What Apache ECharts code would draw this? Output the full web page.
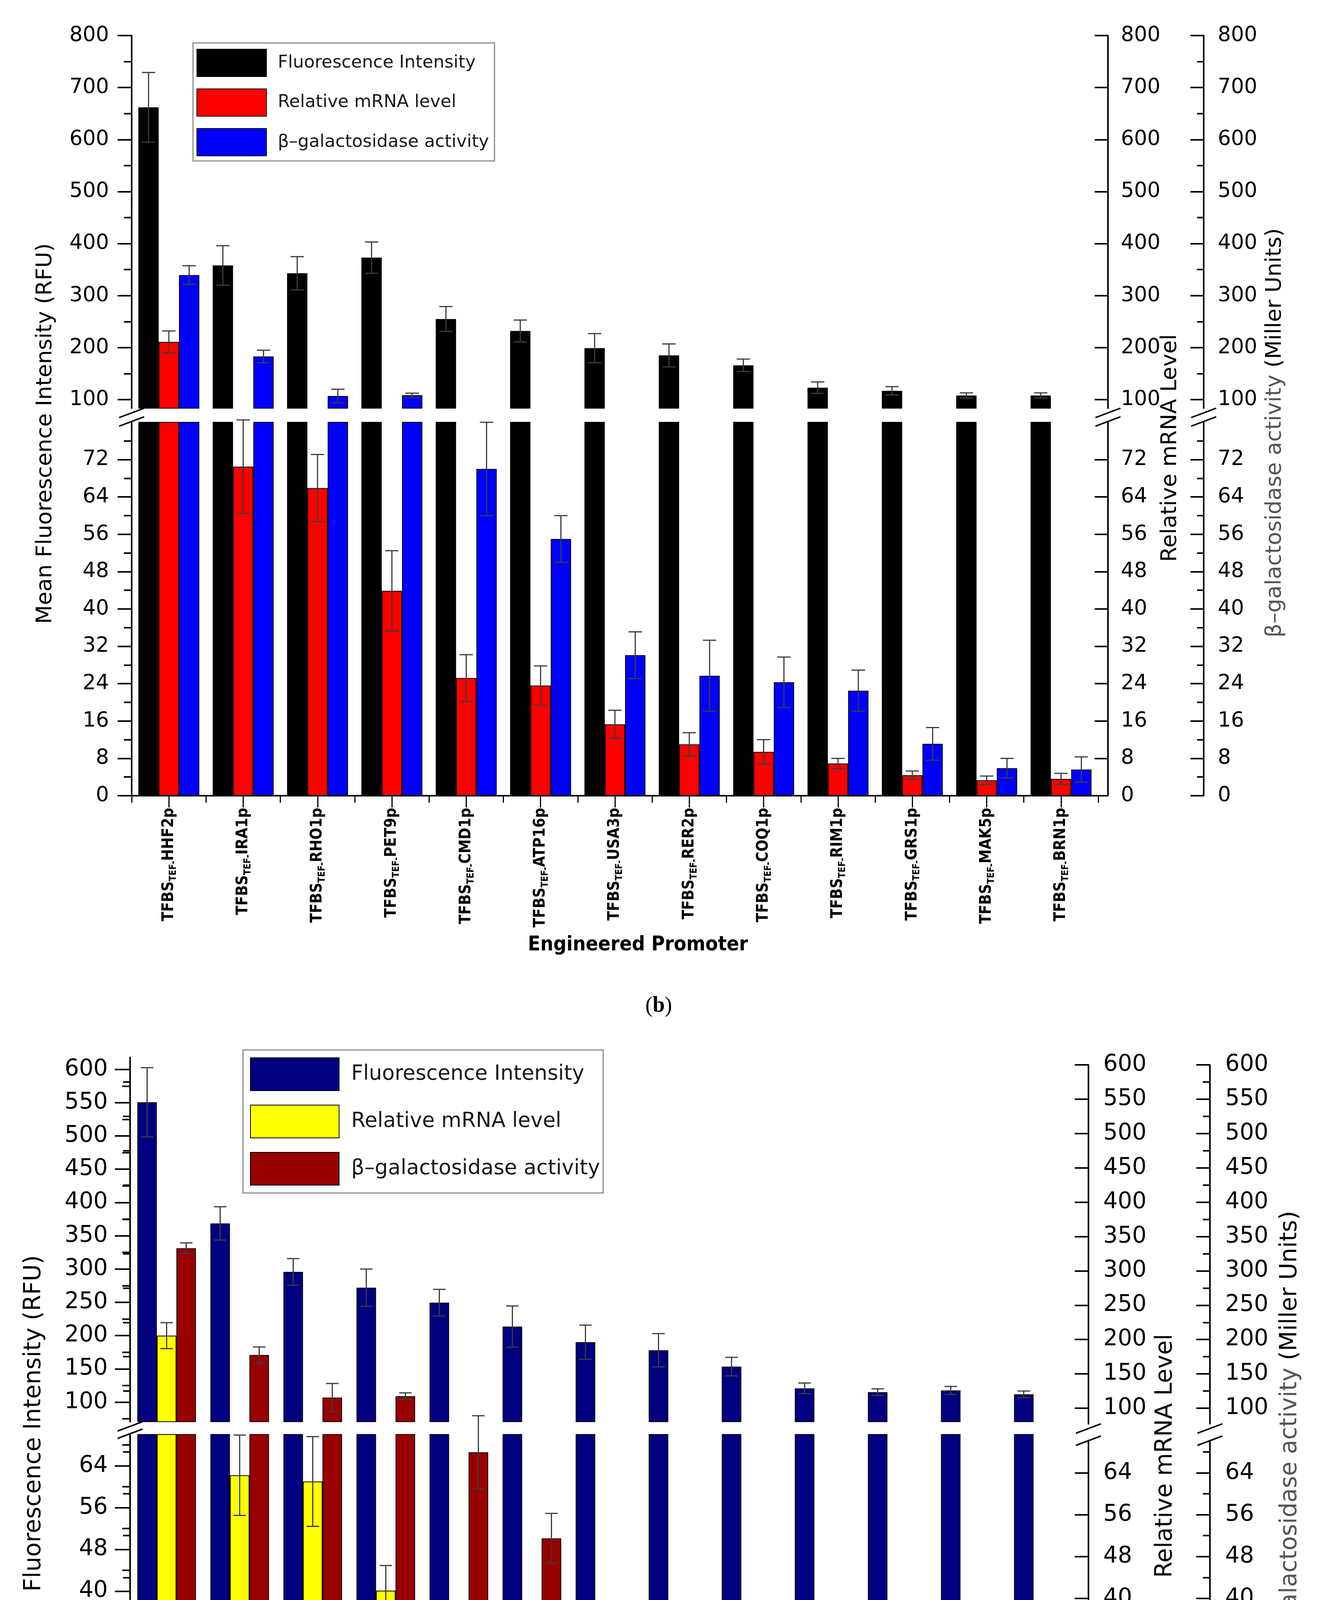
<!DOCTYPE html>
<html>
<head>
<meta charset="utf-8">
<script src="https://cdn.jsdelivr.net/npm/echarts@6/dist/echarts.min.js"></script>
<style>
html,body{margin:0;padding:0;background:#ffffff;}
#panelB,#panelC{width:3412px;height:2643px;}
</style>
</head>
<body>
<div id="panelB"></div>
<div id="panelC"></div>
<script>
// ---------------- data ----------------
const promoters = ['HHF2p','IRA1p','RHO1p','PET9p','CMD1p','ATP16p','USA3p','RER2p','COQ1p','RIM1p','GRS1p','MAK5p','BRN1p'];
const seriesNames = ['Fluorescence Intensity','Relative mRNA level','\u03b2\u2013galactosidase activity'];

// panel (b): TFBS_TEF promoters
const fluoB    = [662, 358, 343, 373, 255, 232, 199, 185, 166, 123, 117, 108, 108];
const fluoErrB = [67, 38, 32, 30, 24, 21, 28, 22, 12, 11, 8, 5, 5];
const mrnaB    = [211, 70.5, 65.9, 43.9, 25.2, 23.6, 15.3, 11.0, 9.4, 6.9, 4.4, 3.3, 3.6];
const mrnaErrB = [21, 10, 7.2, 8.6, 5, 4.2, 3, 2.5, 2.6, 1.1, 0.9, 0.9, 1.2];
const galB     = [339.5, 183, 107, 108.5, 70, 55, 30.1, 25.7, 24.3, 22.5, 11.1, 5.9, 5.6];
const galErrB  = [18, 12, 13, 4, 10, 5, 5, 7.6, 5.4, 4.4, 3.5, 2.1, 2.7];

// panel (c): TFBS_HHF2 promoters
const fluoC    = [550.6, 368.6, 295.8, 272, 249.5, 213.6, 190.2, 178, 153.4, 120.8, 115, 117.7, 111.8];
const fluoErrC = [52, 25, 20, 28, 20, 31, 25.6, 25, 14, 8, 5, 6, 5];
const mrnaC    = [200, 62.2, 61.0, 40.1, 21.5, 21.2, 13.9, 10.5, 9.2, 6.0, 4.1, 4.2, 4.2];
const mrnaErrC = [19.5, 7.7, 8.6, 4.8, 3.5, 3.9, 2.7, 1.6, 2.5, 1.8, 1.8, 1.0, 0.9];
const galC     = [331.3, 170.9, 107, 109, 66.6, 50.1, 24.9, 23.3, 22.0, 20.4, 9.0, 4.6, 5.0];
const galErrC  = [8, 12, 21, 5, 7, 4.8, 5.2, 6.6, 4, 4.1, 3.5, 2.2, 0.9];

// tick labels
const ticksUpB  = [100,200,300,400,500,600,700,800];
const minorUpB  = [150,250,350,450,550,650,750];
const ticksLoB  = [0,8,16,24,32,40,48,56,64,72];
const minorLoB  = [4,12,20,28,36,44,52,60,68,76];
const ticksUpC  = [100,150,200,250,300,350,400,450,500,550,600];
const minorUpC  = [75,125,175,225,275,325,375,425,475,525,575];
const ticksLoC  = [0,8,16,24,32,40,48,56,64];
const minorLoC  = [4,12,20,28,36,44,52,60,68];

// ---------------- builder ----------------
const FONT = "'DejaVu Sans', sans-serif";
const CFONT = "'DejaVu Sans Condensed', 'Liberation Sans Narrow', 'DejaVu Sans', sans-serif";
const BLACK = '#000000';

function buildOption(P) {
  const inR = (arr, a) => arr.filter(v => v >= a.min && v <= a.max);
  const lw = 4;
  const grids = [
    {left: P.L, top: P.up.top, width: P.catR - P.L, height: P.up.bottom - P.up.top},
    {left: P.L, top: P.lo.top, width: P.catR - P.L, height: P.lo.bottom - P.lo.top},
    {left: P.L, top: P.rUp.top, width: P.R - P.L, height: P.rUp.bottom - P.rUp.top},
    {left: P.L, top: P.rLo.top, width: P.R - P.L, height: P.rLo.bottom - P.rLo.top},
    {left: P.L, top: P.lo.top, width: P.R - P.L, height: P.lo.bottom - P.lo.top}
  ].map(g => Object.assign(g, {containLabel: false, outerBoundsMode: 'none'}));

  const xAxes = [
    {gridIndex: 0, type: 'category', data: P.cats, show: false},
    {gridIndex: 1, type: 'category', data: P.cats, position: 'bottom',
      axisLine: {show: false},
      axisTick: {show: true, length: P.xl.boundaryLen, lineStyle: {color: BLACK, width: 3}},
      axisLabel: {show: true, rotate: 90, margin: P.xl.margin, interval: 0,
        formatter: v => '{m|TFBS}{s|' + P.sub + '}{m|' + v + '}',
        rich: {
          m: {fontSize: P.xl.main, fontWeight: 'bold', fontFamily: CFONT, color: BLACK, lineHeight: P.xl.main + 8},
          s: {fontSize: P.xl.sub, fontWeight: 'bold', fontFamily: CFONT, color: BLACK, verticalAlign: 'bottom'}
        }}},
    {gridIndex: 1, type: 'category', data: P.cats, position: 'bottom',
      axisLine: {show: false},
      axisTick: {show: true, alignWithLabel: true, length: P.xl.centerLen, lineStyle: {color: BLACK, width: 3}},
      axisLabel: {show: false}},
    {gridIndex: 2, type: 'value', min: 0, max: 1, show: false},
    {gridIndex: 3, type: 'value', min: 0, max: 1, show: false},
    {gridIndex: 4, type: 'value', min: 0, max: 1,
      axisLine: {show: true, onZero: false, lineStyle: {color: BLACK, width: lw}},
      axisTick: {show: false}, axisLabel: {show: false}, splitLine: {show: false}}
  ];

  function yMain(grid, a, pos, offset, inside, len, margin) {
    return {gridIndex: grid, type: 'value', min: a.min, max: a.max, position: pos, offset: offset,
      axisLine: {show: true, onZero: false, lineStyle: {color: BLACK, width: lw}},
      axisTick: {show: true, inside: inside, length: len, customValues: inR(a.ticks, a), lineStyle: {color: BLACK, width: lw}},
      axisLabel: {show: true, customValues: inR(a.ticks, a), margin: margin, fontSize: P.tickFont, fontFamily: FONT, color: BLACK},
      splitLine: {show: false}};
  }
  function yMinor(grid, a, pos, offset, inside, len) {
    return {gridIndex: grid, type: 'value', min: a.min, max: a.max, position: pos, offset: offset,
      axisLine: {show: false},
      axisTick: {show: true, inside: inside, length: len, customValues: inR(a.minor, a), lineStyle: {color: BLACK, width: lw}},
      axisLabel: {show: false}, splitLine: {show: false}};
  }
  const yAxes = [
    yMain(0, P.up, 'left', 0, false, P.majorLen, P.mL),
    yMinor(0, P.up, 'left', 0, false, P.minorLen),
    yMain(1, P.lo, 'left', 0, false, P.majorLen, P.mL),
    yMinor(1, P.lo, 'left', 0, false, P.minorLen),
    yMain(2, P.rUp, 'right', 0, true, P.rMajorLen, P.mR[0]),
    yMinor(2, P.rUp, 'right', 0, true, P.rMinorLen),
    yMain(2, P.rUp, 'right', P.R2off, true, P.rMajorLen, P.mR[1]),
    yMinor(2, P.rUp, 'right', P.R2off, true, P.rMinorLen),
    yMain(3, P.rLo, 'right', 0, true, P.rMajorLen, P.mR[0]),
    yMinor(3, P.rLo, 'right', 0, true, P.rMinorLen),
    yMain(3, P.rLo, 'right', P.R2off, true, P.rMajorLen, P.mR[1]),
    yMinor(3, P.rLo, 'right', P.R2off, true, P.rMinorLen),
    {gridIndex: 4, type: 'value', min: 0, max: 1, show: false}
  ];

  const series = [];
  P.series.forEach((s, k) => {
    const common = {type: 'bar', name: s.name, barWidth: P.barW, barGap: '0%', clip: true,
      itemStyle: {color: s.color, borderColor: '#000000', borderWidth: 2}, emphasis: {disabled: true}, z: 2};
    series.push(Object.assign({}, common, {xAxisIndex: 0, yAxisIndex: 0,
      data: s.vals.map(v => v >= P.up.min ? v : '-')}));
    series.push(Object.assign({}, common, {xAxisIndex: 1, yAxisIndex: 2, data: s.vals.slice()}));
  });

  function errSeries(xi, yi, test) {
    const data = [];
    P.series.forEach((s, k) => s.vals.forEach((v, i) => { if (test(v)) data.push([i, v, s.errs[i], k]); }));
    return {type: 'custom', xAxisIndex: xi, yAxisIndex: yi, clip: false, silent: true, z: 5,
      encode: {x: 0, y: 1}, data: data,
      renderItem: (params, api) => {
        const i = api.value(0), v = api.value(1), e = api.value(2), k = api.value(3);
        const c = api.coord([i, v]);
        const x = c[0] + (k - 1) * P.barW;
        const yT = api.coord([i, v + e])[1];
        const yB = api.coord([i, v - e])[1];
        const hw = P.capW / 2;
        const st = {stroke: '#3c3c3c', lineWidth: 3};
        return {type: 'group', children: [
          {type: 'line', shape: {x1: x, y1: yT, x2: x, y2: yB}, style: st},
          {type: 'line', shape: {x1: x - hw, y1: yT, x2: x + hw, y2: yT}, style: st},
          {type: 'line', shape: {x1: x - hw, y1: yB, x2: x + hw, y2: yB}, style: st}
        ]};
      }};
  }
  series.push(errSeries(0, 0, v => v >= P.up.min));
  series.push(errSeries(1, 2, v => v <= P.lo.max));

  const g = [];
  const vtext = (x, y, text, size, rich) => ({type: 'text', x: x, y: y, rotation: Math.PI / 2, z: 20,
    style: {text: text, fontSize: size, fontFamily: FONT, fill: BLACK, align: 'center', verticalAlign: 'middle', rich: rich}});
  g.push(vtext(P.t.left[0], P.t.left[1], 'Mean Fluorescence Intensity (RFU)', P.t.font));
  g.push(vtext(P.t.r1[0], P.t.r1[1], 'Relative mRNA Level', P.t.font));
  g.push(vtext(P.t.r2[0], P.t.r2[1], '{g|\u03b2\u2013galactosidase activity} {k|(Miller Units)}', P.t.font, {
    g: {fontSize: P.t.font, fontFamily: FONT, fill: '#555555', color: '#555555'},
    k: {fontSize: P.t.font, fontFamily: FONT, fill: BLACK, color: BLACK}}));
  g.push({type: 'text', x: P.xTitle[0], y: P.xTitle[1], z: 20,
    style: {text: 'Engineered Promoter', fontSize: P.xTitleFont, fontWeight: 'bold', fontFamily: CFONT, fill: BLACK, align: 'center', verticalAlign: 'middle'}});
  g.push({type: 'text', x: P.pl.x, y: P.pl.y, z: 20,
    style: {text: '({p|' + P.pl.text + '})', fontSize: 56, fontFamily: "'Liberation Serif', serif", fill: BLACK, align: 'center', verticalAlign: 'middle',
      rich: {p: {fontSize: 56, fontWeight: 'bold', fontFamily: "'Liberation Serif', serif", fill: BLACK, color: BLACK}}}});
  function slashes(x, y1, y2) {
    [y1, y2].forEach(yc => g.push({type: 'line', z: 20,
      shape: {x1: x - 32, y1: yc + 12, x2: x + 32, y2: yc - 12}, style: {stroke: BLACK, lineWidth: 4}}));
  }
  slashes(P.L, P.up.bottom + 12, P.lo.top - 2);
  slashes(P.R, P.rUp.bottom + 12, P.rLo.top - 2);
  slashes(P.R + P.R2off, P.rUp.bottom + 12, P.rLo.top - 2);

  return {
    backgroundColor: '#ffffff',
    animation: false,
    grid: grids,
    xAxis: xAxes,
    yAxis: yAxes,
    legend: {show: true, orient: 'vertical', left: P.lg.left, top: P.lg.top,
      data: P.series.map(s => s.name), icon: 'rect', itemWidth: P.lg.w, itemHeight: P.lg.h, itemGap: P.lg.gap,
      padding: P.lg.padding, backgroundColor: '#ffffff', borderColor: '#8c8c8c', borderWidth: 3, borderRadius: 0,
      selectedMode: false,
      itemStyle: {borderColor: '#000000', borderWidth: 2},
      textStyle: {fontSize: P.lg.font, fontFamily: FONT, color: '#1a1a1a', padding: [0, 0, 0, P.lg.pad]}},
    series: series,
    graphic: g
  };
}

const optB = buildOption({
  cats: promoters, sub: 'TEF-',
  series: [
    {name: seriesNames[0], color: '#000000', vals: fluoB, errs: fluoErrB},
    {name: seriesNames[1], color: '#ff0000', vals: mrnaB, errs: mrnaErrB},
    {name: seriesNames[2], color: '#0000ff', vals: galB, errs: galErrB}
  ],
  L: 337, catR: 2811, R: 2836, R2off: 245,
  up: {top: 91, bottom: 1045, min: 83.5, max: 800, ticks: ticksUpB, minor: minorUpB},
  lo: {top: 1081, bottom: 2037, min: 0, max: 80, ticks: ticksLoB, minor: minorLoB},
  rUp: {top: 91, bottom: 1045, min: 83.5, max: 800, ticks: ticksUpB, minor: minorUpB},
  rLo: {top: 1081, bottom: 2037, min: 0, max: 80, ticks: ticksLoB, minor: minorLoB},
  tickFont: 53, mL: 58, mR: [33, 36], majorLen: 36, minorLen: 20, rMajorLen: 34, rMinorLen: 17,
  barW: 52, capW: 34,
  xl: {main: 40, sub: 24, margin: 31, boundaryLen: 18, centerLen: 30},
  lg: {left: 494, top: 110, w: 178, h: 70, gap: 29.5, font: 45, pad: 24, padding: [15, 14, 12, 9]},
  t: {font: 56, left: [116, 1110], r1: [2995, 1147], r2: [3263, 1108]},
  xTitle: [1633, 2419], xTitleFont: 52,
  pl: {text: 'b', x: 1686, y: 2576}
});

const optC = buildOption({
  cats: promoters, sub: 'HHF2-',
  series: [
    {name: seriesNames[0], color: '#000080', vals: fluoC, errs: fluoErrC},
    {name: seriesNames[1], color: '#ffff00', vals: mrnaC, errs: mrnaErrC},
    {name: seriesNames[2], color: '#990000', vals: galC, errs: galErrC}
  ],
  L: 333, catR: 2764, R: 2786, R2off: 311,
  up: {top: 64, bottom: 996.5, min: 70.7, max: 618, ticks: ticksUpC, minor: minorUpC},
  lo: {top: 1029.3, bottom: 1965, min: 0, max: 70, ticks: ticksLoC, minor: minorLoC},
  rUp: {top: 83, bottom: 1002, min: 77.25, max: 600, ticks: ticksUpC, minor: minorUpC},
  rLo: {top: 1047.1, bottom: 1984.7, min: 0, max: 70, ticks: ticksLoC, minor: minorLoC},
  tickFont: 58, mL: 57, mR: [38, 39], majorLen: 39, minorLen: 20, rMajorLen: 35, rMinorLen: 18,
  barW: 50, capW: 32,
  xl: {main: 38, sub: 22, margin: 47, boundaryLen: 23, centerLen: 42},
  lg: {left: 622, top: 45, w: 227, h: 84, gap: 35, font: 53, pad: 26, padding: [19, 8, 19, 18]},
  t: {font: 60, left: [87, 1092], r1: [2983, 1084], r2: [3302, 1018]},
  xTitle: [1632, 2372], xTitleFont: 52,
  pl: {text: 'c', x: 1671, y: 2522}
});

echarts.init(document.getElementById('panelB'), null, {renderer: 'canvas'}).setOption(optB);
echarts.init(document.getElementById('panelC'), null, {renderer: 'canvas'}).setOption(optC);
</script>
</body>
</html>
